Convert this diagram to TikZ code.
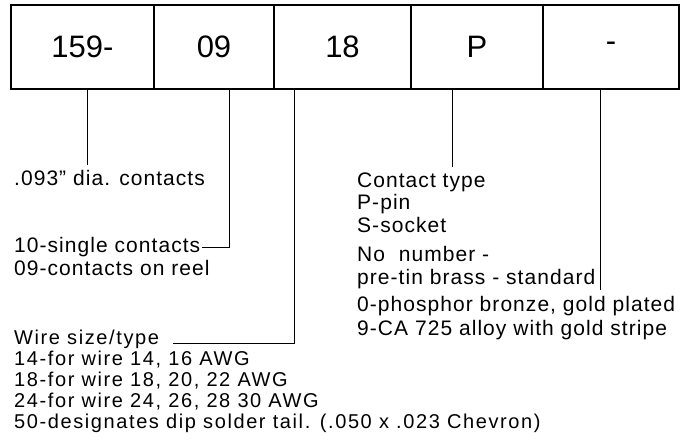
\documentclass[tikz,border=0pt]{standalone}
\usepackage{fontspec}
\setmainfont{Liberation Sans}
\newfontfamily\cellfont{Liberation Sans}
\newfontfamily\upfont[LetterSpace=5]{Liberation Sans}
\newfontfamily\lowfont[LetterSpace=8]{Liberation Sans}
\usepackage{tikz}

\begin{document}
\begin{tikzpicture}[x=1pt, y=-1pt,
    cell/.style={draw, line width=1.2pt, minimum height=84pt, inner sep=0pt,
        font=\cellfont\fontsize{31}{31}\selectfont},
    uplabel/.style={anchor=base west, inner sep=0pt,
        font=\upfont\fontsize{21}{21}\selectfont},
    lowlabel/.style={anchor=base west, inner sep=0pt,
        font=\lowfont\fontsize{20}{20}\selectfont},
    lead/.style={line width=1pt}]
    \useasboundingbox (0,0) rectangle (689,446);

    % Draw the part number boxes
    \node[cell, minimum width=143pt] (Series) at (82.5,47) {159-};
    \node[cell, minimum width=120pt] (Count) at (214,47) {09};
    \node[cell, minimum width=137pt] (Wire) at (342.5,47) {18};
    \node[cell, minimum width=132pt] (Type) at (477,47) {P};
    \node[cell, minimum width=136pt] (Plating) at (611,47) {-};

    % Define where the leads leave the boxes
    \coordinate (T1) at (Series.south -| 87,0);
    \coordinate (T2) at (Count.south -| 229,0);
    \coordinate (T3) at (Wire.south -| 294,0);
    \coordinate (T4) at (Type.south -| 452,0);
    \coordinate (T5) at (Plating.south -| 600,0);

    % Left labels
    \node[uplabel] (Dia) at (14,186) {.093” dia. contacts};
    \node[uplabel] (Single) at (14,253) {10-single contacts};
    \node[uplabel] (Reel) at (14,276) {09-contacts on reel};
    \node[lowlabel] (WireHead) at (14,345) {Wire size/type};
    \foreach \txt [count=\i] in {{14-for wire 14, 16 AWG}, {18-for wire 18, 20, 22 AWG},
        {24-for wire 24, 26, 28 30 AWG}, {50-designates dip solder tail. (.050 x .023 Chevron)}}
        \node[lowlabel] (WireRow\i) at (14,345+21*\i) {\txt};

    % Right labels
    \node[uplabel] (TypeHead) at (357,188) {Contact type};
    \node[uplabel] (Pin) at (357,210) {P-pin};
    \node[uplabel] (Socket) at (357,233) {S-socket};
    \node[uplabel] (NoNum) at (357,262) {No~\ number -};
    \node[uplabel] (Brass) at (357,285) {pre-tin brass - standard};
    \node[uplabel] (Bronze) at (357,312) {0-phosphor bronze, gold plated};
    \node[uplabel] (Alloy) at (357,336) {9-CA 725 alloy with gold stripe};

    % Connect the boxes to their labels
    \draw[lead, shorten >=6pt] (T1) -- (T1 |- Dia.north);
    \draw[lead] (T2) |- ([xshift=2pt]Single.east);
    \draw[lead] (T3) |- ([xshift=14pt, yshift=1pt]WireHead.base east);
    \draw[lead, shorten >=6pt] (T4) -- (T4 |- TypeHead.north);
    \draw[lead] (T5) -- (T5 |- Brass.south);

\end{tikzpicture}
\end{document}
